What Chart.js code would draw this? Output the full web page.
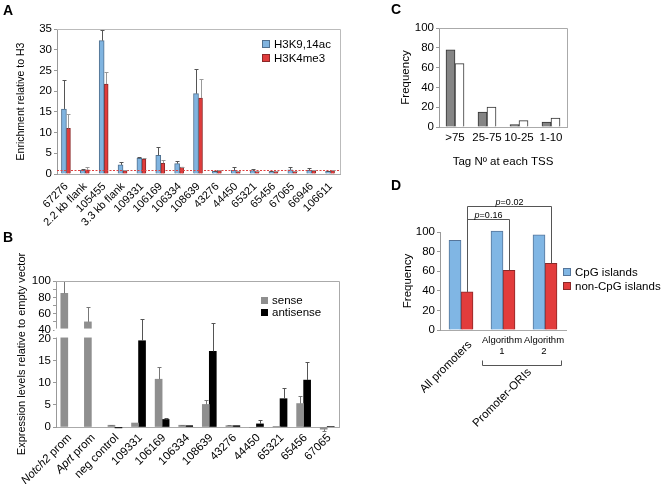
<!DOCTYPE html>
<html><head><meta charset="utf-8">
<script src="https://cdn.jsdelivr.net/npm/chart.js@4"></script>
<style>
html,body{margin:0;padding:0;background:#fff;}
body{width:661px;height:484px;overflow:hidden;position:relative;font-family:"Liberation Sans",Arial,sans-serif;}
canvas{position:absolute;}
.lab{position:absolute;font-weight:bold;font-size:14px;line-height:14px;}
</style></head><body>
<canvas id="cA" width="345" height="242" style="left:0;top:0"></canvas>
<canvas id="cB" width="345" height="242" style="left:0;top:242px"></canvas>
<canvas id="cC" width="316" height="180" style="left:345px;top:0"></canvas>
<canvas id="cD" width="316" height="304" style="left:345px;top:180px"></canvas>
<div class="lab" style="left:3px;top:3px">A</div>
<div class="lab" style="left:3px;top:230px">B</div>
<div class="lab" style="left:391px;top:2px">C</div>
<div class="lab" style="left:391px;top:178px">D</div>
<script>
// ---------- DATA ----------
// Panel A
const catsA = ['67276','2.2 kb flank','105455','3.3 kb flank','109331','106169','106334','108639','43276','44450','65321','65456','67065','66946','106611'];
const h3k9ac    = [15.7,0.9,32.2,2.2,3.8,4.5,2.5,19.4,0.7,0.9,0.8,0.6,1.0,0.9,0.7];
const h3k9acErr = [22.7,1.3,34.8,2.8,4.0,6.4,3.2,25.3,0.8,1.6,1.2,0.7,1.7,1.5,0.8];
const h3k4me3    = [11.0,1.0,21.7,0.8,3.6,2.6,1.7,18.3,0.9,0.6,0.7,0.6,0.6,0.8,0.8];
const h3k4me3Err = [14.6,1.6,24.6,0.9,3.8,3.3,1.8,22.9,1.0,0.7,0.8,0.65,0.7,0.9,0.9];
const ticksA = [0,5,10,15,20,25,30,35];
const thresholdA = 1;

// Panel B
const catsB = ['Notch2 prom','Aprt prom','neg control','109331','106169','106334','108639','43276','44450','65321','65456','67065'];
const italicB = ['Notch2','Aprt'];
const senseB        = [85,50,0.4,0.9,10.8,0.4,5.1,0.3,-0.1,0.05,5.3,-0.5];
const senseErrB     = [100,68,0.5,null,13.6,0.45,6.1,0.5,null,null,7.0,-0.8];
const antisenseB    = [null,null,-0.2,19.5,1.7,0.3,17.1,0.3,0.7,6.4,10.6,0.1];
const antisenseErrB = [null,null,null,54,2.1,0.35,49,0.45,1.5,8.8,14.6,0.3];
const ticksB = [0,5,10,15,20,40,60,80,100];
const minorTicksB = [50,70,90];
const breakB = {low:20, high:40};

// Panel C
const catsC = ['>75','25-75','10-25','1-10'];
const greyC  = [78,15,2.5,5];
const whiteC = [64,20,6.5,9];
const ticksC = [0,20,40,60,80,100];

// Panel D
const catsD = ['All promoters',['Algorithm','1'],['Algorithm','2']];
const cpgD    = [91.5,101,97];
const nonCpgD = [39,61,68];
const ticksD  = [0,20,40,60,80,100];
const pvalsD  = [{from:0,to:1,p:'0.16',level:113},{from:0,to:2,p:'0.02',level:127}];
const groupD  = {label:'Promoter-ORIs', from:1, to:2};

// ---------- SETUP ----------
const FONT = '"Liberation Sans", Arial, Helvetica, sans-serif';
Chart.defaults.font.family = FONT;
Chart.defaults.color = '#000';
Chart.defaults.animation = false;
Chart.defaults.responsive = false;
Chart.defaults.plugins.legend.display = false;
Chart.defaults.plugins.tooltip.enabled = false;

// broken linear scale for panel B
const BRK_F1 = 0.606, BRK_F2 = 0.664;
class BrokenScale extends Chart.LinearScale {
  static id = 'broken';
  _dec(v){
    if (v <= breakB.low) return v / breakB.low * BRK_F1;
    if (v < breakB.high) return BRK_F1 + (v - breakB.low)/(breakB.high - breakB.low)*(BRK_F2 - BRK_F1);
    return BRK_F2 + (v - breakB.high)/(this.max - breakB.high)*(1 - BRK_F2);
  }
  getPixelForValue(v){ return this.getPixelForDecimal(this._dec(v)); }
  getValueForPixel(p){
    const d = this.getDecimalForPixel(p);
    if (d <= BRK_F1) return d / BRK_F1 * breakB.low;
    if (d < BRK_F2) return breakB.low + (d-BRK_F1)/(BRK_F2-BRK_F1)*(breakB.high-breakB.low);
    return breakB.high + (d-BRK_F2)/(1-BRK_F2)*(this.max-breakB.high);
  }
}
Chart.register(BrokenScale);

// ---------- PLUGINS ----------
function errBars(errs, colors, cap){
  return {id:'errBars', afterDatasetsDraw(chart){
    const ctx = chart.ctx, ys = chart.scales.y;
    ctx.save(); ctx.lineWidth = 1;
    errs.forEach((arr, di) => {
      const meta = chart.getDatasetMeta(di);
      ctx.strokeStyle = colors[di];
      arr.forEach((e, i) => {
        const v = chart.data.datasets[di].data[i];
        if (e == null || v == null) return;
        const bar = meta.data[i];
        const x = Math.round(bar.x) + 0.5;
        const y1 = Math.round(ys.getPixelForValue(e)) + 0.5;
        ctx.beginPath();
        ctx.moveTo(x, bar.y); ctx.lineTo(x, y1);
        ctx.moveTo(x - cap/2, y1); ctx.lineTo(x + cap/2, y1);
        ctx.stroke();
      });
    });
    ctx.restore();
  }};
}
function frame(color){
  return {id:'frame', afterDatasetsDraw(chart){
    const {ctx, chartArea:a} = chart;
    ctx.save(); ctx.strokeStyle = color; ctx.lineWidth = 1;
    ctx.beginPath();
    ctx.moveTo(a.left, Math.round(a.top)+0.5); ctx.lineTo(Math.round(a.right)+0.5, Math.round(a.top)+0.5);
    ctx.lineTo(Math.round(a.right)+0.5, a.bottom);
    ctx.stroke(); ctx.restore();
  }};
}
function refLine(value, color){
  return {id:'refLine', afterDatasetsDraw(chart){
    const {ctx, chartArea:a} = chart;
    const y = Math.round(chart.scales.y.getPixelForValue(value)) + 0.5;
    ctx.save(); ctx.strokeStyle = color; ctx.lineWidth = 1; ctx.setLineDash([2,1.5]);
    ctx.beginPath(); ctx.moveTo(a.left, y); ctx.lineTo(a.right, y); ctx.stroke(); ctx.restore();
  }};
}
function boxLegend(x, y, gap, size, fontSize, stroke){
  return {id:'boxLegend', afterDraw(chart){
    const ctx = chart.ctx;
    ctx.save(); ctx.font = fontSize + 'px ' + FONT; ctx.textBaseline = 'middle'; ctx.textAlign = 'left';
    chart.data.datasets.forEach((d, i) => {
      const cy = y + i*gap;
      ctx.fillStyle = d.backgroundColor;
      ctx.fillRect(x, Math.round(cy - size/2), size, size);
      if (stroke) { ctx.strokeStyle = d.borderColor; ctx.lineWidth = 1; ctx.strokeRect(x+0.5, Math.round(cy-size/2)+0.5, size-1, size-1); }
      ctx.fillStyle = '#000';
      ctx.fillText(d.label, x + size + 4, cy + 0.5);
    });
    ctx.restore();
  }};
}
function rotText(ctx, x, y, parts){
  ctx.save(); ctx.translate(x, y); ctx.rotate(-Math.PI/4);
  ctx.textAlign = 'right'; ctx.textBaseline = 'middle';
  let off = 0;
  for (let k = parts.length - 1; k >= 0; k--) {
    ctx.font = (parts[k].italic ? 'italic ' : '') + parts[k].size + 'px ' + FONT;
    ctx.fillText(parts[k].text, -off, 0);
    off += ctx.measureText(parts[k].text).width;
  }
  ctx.restore();
}
const brkGap = {id:'brkGap', afterDatasetsDraw(chart){
  const {ctx, chartArea:a} = chart, ys = chart.scales.y;
  const yTop = ys.getPixelForValue(breakB.high) - 1.5, yBot = ys.getPixelForValue(breakB.low) - 1;
  ctx.save(); ctx.fillStyle = '#fff';
  ctx.fillRect(a.left - 1.5, yTop, a.right - a.left + 1, yBot - yTop);
  ctx.restore();
}};
const labelsB = {id:'labelsB', afterDraw(chart){
  const ctx = chart.ctx, xs = chart.scales.x, b = chart.chartArea.bottom;
  ctx.save(); ctx.fillStyle = '#000';
  catsB.forEach((lab, i) => {
    const x = xs.getPixelForValue(i);
    const w = lab.split(' ')[0];
    let parts;
    if (italicB.includes(w)) parts = [{text:w, italic:true, size:11.5},{text:lab.slice(w.length), italic:false, size:11.5}];
    else parts = [{text:lab, italic:false, size:11.5}];
    rotText(ctx, x + 2, b + 9, parts);
  });
  ctx.restore();
}};
const labelsD = {id:'labelsD', afterDraw(chart){
  const ctx = chart.ctx, xs = chart.scales.x, b = chart.chartArea.bottom;
  ctx.save(); ctx.fillStyle = '#000';
  let algW = 0;
  catsD.forEach((lab, i) => {
    const x = xs.getPixelForValue(i);
    if (Array.isArray(lab)) {
      ctx.font = '9.5px ' + FONT; ctx.textAlign = 'center'; ctx.textBaseline = 'middle';
      lab.forEach((t, k) => ctx.fillText(t, x - 1, b + 10 + k*11.7));
      algW = Math.max(algW, ctx.measureText(lab[0]).width);
    } else {
      rotText(ctx, x + 9, b + 13, [{text:lab, italic:false, size:11.5}]);
    }
  });
  const x1 = xs.getPixelForValue(groupD.from) - algW/2 - 1, x2 = xs.getPixelForValue(groupD.to) + algW/2 - 4;
  const by = Math.round(b + 35) + 0.5;
  ctx.strokeStyle = '#555'; ctx.lineWidth = 1;
  ctx.beginPath(); ctx.moveTo(Math.round(x1)+0.5, by - 5); ctx.lineTo(Math.round(x1)+0.5, by);
  ctx.lineTo(Math.round(x2)+0.5, by); ctx.lineTo(Math.round(x2)+0.5, by - 5); ctx.stroke();
  rotText(ctx, (x1 + x2)/2 + 8, by + 5, [{text:groupD.label, italic:false, size:11.5}]);
  const meta = chart.getDatasetMeta(1), ys = chart.scales.y;
  pvalsD.forEach(pv => {
    const a = meta.data[pv.from], c = meta.data[pv.to];
    const xa = Math.round(a.x) + 0.5, xc = Math.round(c.x) + 0.5;
    const yl = Math.round(ys.getPixelForValue(pv.level)) + 0.5;
    ctx.strokeStyle = '#555';
    ctx.beginPath(); ctx.moveTo(xa, a.y); ctx.lineTo(xa, yl); ctx.lineTo(xc, yl); ctx.lineTo(xc, c.y); ctx.stroke();
    ctx.textBaseline = 'alphabetic'; ctx.textAlign = 'left';
    ctx.font = 'italic 9px ' + FONT; const wp = ctx.measureText('p').width;
    ctx.font = '9px ' + FONT; const wr = ctx.measureText('=' + pv.p).width;
    const sx = (xa + xc)/2 - (wp + wr)/2;
    ctx.font = 'italic 9px ' + FONT; ctx.fillText('p', sx, yl - 2);
    ctx.font = '9px ' + FONT; ctx.fillText('=' + pv.p, sx + wp, yl - 2);
  });
  ctx.restore();
}};

function tickSetter(vals){ return s => { s.ticks = vals.slice().sort((a,b)=>a-b).map(v => ({value:v})); }; }
const axisGrey = '#999';

// ---------- CHART A ----------
new Chart(document.getElementById('cA'), {
  type:'bar',
  data:{labels:catsA, datasets:[
    {label:'H3K9,14ac', data:h3k9ac, backgroundColor:'#80b4e0', borderColor:'#50708f', borderWidth:1, barThickness:5},
    {label:'H3K4me3', data:h3k4me3, backgroundColor:'#e03c3c', borderColor:'#8c2828', borderWidth:1, barThickness:4}
  ]},
  options:{
    devicePixelRatio:1,
    layout:{padding:{left:11, top:29, right:5, bottom:0}},
    scales:{
      x:{grid:{display:false, drawTicks:false}, border:{color:'#aaa'},
         ticks:{autoSkip:false, maxRotation:45, minRotation:45, padding:6, font:{size:11}},
         afterFit:s=>{s.height=68; s.paddingLeft=0; s.paddingRight=0;}},
      y:{min:0, max:35, afterBuildTicks:tickSetter(ticksA),
         ticks:{autoSkip:false, font:{size:11.5}, padding:2},
         grid:{drawOnChartArea:false, tickLength:3, color:axisGrey}, border:{color:axisGrey},
         title:{display:true, text:'Enrichment relative to H3', font:{size:10.5}, padding:{top:4,bottom:2}},
         afterFit:s=>{s.width=46;}}
    }
  },
  plugins:[refLine(thresholdA, '#e04040'), errBars([h3k9acErr, h3k4me3Err], ['#555','#999'], 4), frame('#bbb'), boxLegend(262, 44, 14, 8, 11.5, true)]
});

// ---------- CHART B ----------
new Chart(document.getElementById('cB'), {
  type:'bar',
  data:{labels:catsB, datasets:[
    {label:'sense', data:senseB, backgroundColor:'#8f8f8f', borderWidth:0, barThickness:7, clip:false},
    {label:'antisense', data:antisenseB, backgroundColor:'#000', borderWidth:0, barThickness:7, clip:false}
  ]},
  options:{
    devicePixelRatio:1,
    layout:{padding:{left:11, top:39, right:6, bottom:0}},
    scales:{
      x:{grid:{display:false, drawTicks:false}, border:{color:'#aaa'}, ticks:{display:false},
         afterFit:s=>{s.height=57; s.paddingLeft=0; s.paddingRight=0;}},
      y:{type:'broken', min:0, max:100, afterBuildTicks:tickSetter(ticksB.concat(minorTicksB)),
         ticks:{autoSkip:false, font:{size:11.5}, padding:2, callback:v => minorTicksB.includes(v) ? '' : String(v)},
         grid:{drawOnChartArea:false, tickLength:3, color:axisGrey}, border:{color:axisGrey},
         title:{display:true, text:'Expression levels relative to empty vector', font:{size:11}, padding:{top:4,bottom:2}},
         afterFit:s=>{s.width=45;}}
    }
  },
  plugins:[brkGap, errBars([senseErrB, antisenseErrB], ['#777','#555'], 4), frame('#aaa'), labelsB, boxLegend(261, 58, 12, 7, 11.5, false)]
});

// ---------- CHART C ----------
new Chart(document.getElementById('cC'), {
  type:'bar',
  data:{labels:catsC, datasets:[
    {label:'grey', data:greyC, backgroundColor:'#858585', borderColor:'#333', borderWidth:1, barThickness:9},
    {label:'white', data:whiteC, backgroundColor:'#fff', borderColor:'#333', borderWidth:1, barThickness:9}
  ]},
  options:{
    devicePixelRatio:1,
    layout:{padding:{left:50, top:28, right:94, bottom:7}},
    scales:{
      x:{grid:{display:false, drawTicks:false}, border:{color:'#aaa'}, ticks:{autoSkip:false, font:{size:11.5}, padding:4, maxRotation:0},
         title:{display:true, text:'Tag Nº at each TSS', font:{size:11.5}, padding:{top:4,bottom:4}},
         afterFit:s=>{s.height=46; s.paddingLeft=0; s.paddingRight=0;}},
      y:{min:0, max:100, afterBuildTicks:tickSetter(ticksC),
         ticks:{autoSkip:false, font:{size:11.5}, padding:2},
         grid:{drawOnChartArea:false, tickLength:3, color:axisGrey}, border:{color:axisGrey},
         title:{display:true, text:'Frequency', font:{size:11.5}, padding:{top:4,bottom:2}},
         afterFit:s=>{s.width=44;}}
    }
  },
  plugins:[frame('#aaa')]
});

// ---------- CHART D ----------
new Chart(document.getElementById('cD'), {
  type:'bar',
  data:{labels:catsD, datasets:[
    {label:'CpG islands', data:cpgD, backgroundColor:'#80b6e4', borderColor:'#55759a', borderWidth:1, barThickness:12, clip:false},
    {label:'non-CpG islands', data:nonCpgD, backgroundColor:'#e23c3c', borderColor:'#8a2828', borderWidth:1, barThickness:12, clip:false}
  ]},
  options:{
    devicePixelRatio:1,
    layout:{padding:{left:52, top:52, right:95, bottom:0}},
    scales:{
      x:{grid:{display:false, drawTicks:false}, border:{color:'#aaa'}, ticks:{display:false},
         afterFit:s=>{s.height=154; s.paddingLeft=0; s.paddingRight=0;}},
      y:{min:0, max:100, afterBuildTicks:tickSetter(ticksD),
         ticks:{autoSkip:false, font:{size:11.5}, padding:2},
         grid:{drawOnChartArea:false, tickLength:3, color:axisGrey}, border:{color:axisGrey},
         title:{display:true, text:'Frequency', font:{size:11.5}, padding:{top:4,bottom:2}},
         afterFit:s=>{s.width=43;}}
    }
  },
  plugins:[labelsD, boxLegend(218, 92, 14, 8, 11.5, true)]
});
</script>
</body></html>
